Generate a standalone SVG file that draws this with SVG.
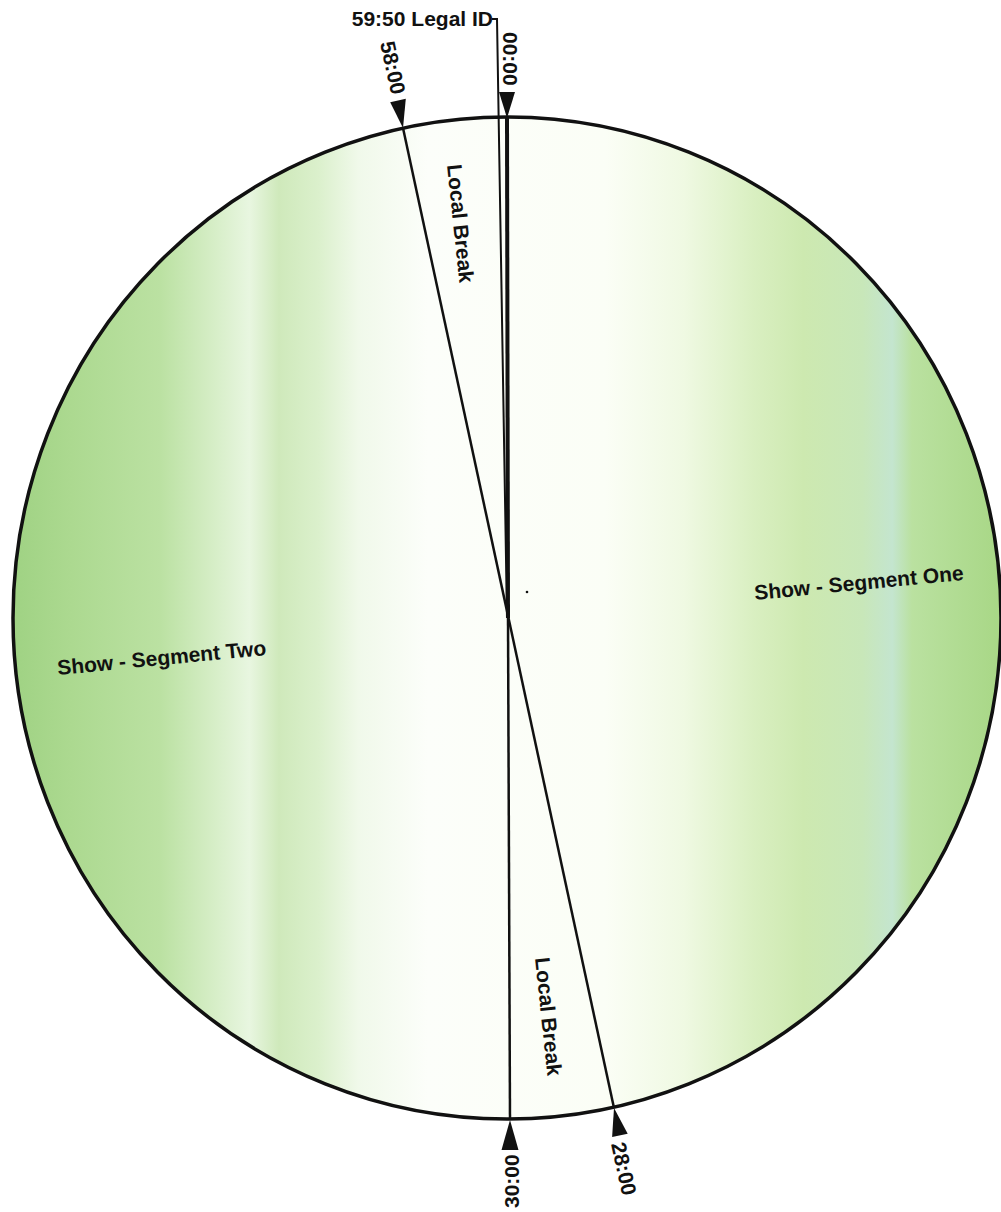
<svg xmlns="http://www.w3.org/2000/svg" width="1001" height="1212" viewBox="0 0 1001 1212">
  <style>
    .lbl { font-family: "Liberation Sans", Arial, sans-serif; font-weight: bold; font-size: 21px; fill: #111; }
    .ln { stroke: #111; fill: none; stroke-linecap: butt; }
    .arr { fill: #111; stroke: none; }
  </style>
  <defs>
    <linearGradient id="bg" gradientUnits="userSpaceOnUse" x1="12" y1="0" x2="1001" y2="0">
      <stop offset="0" stop-color="#9fd283"/>
      <stop offset="0.06" stop-color="#acd990"/>
      <stop offset="0.15" stop-color="#bbe1a2"/>
      <stop offset="0.2" stop-color="#d4edc4"/>
      <stop offset="0.24" stop-color="#e8f6e0"/>
      <stop offset="0.27" stop-color="#cfe9bb"/>
      <stop offset="0.31" stop-color="#dbf0cc"/>
      <stop offset="0.35" stop-color="#f0f9ea"/>
      <stop offset="0.42" stop-color="#fcfefa"/>
      <stop offset="0.6" stop-color="#fbfef6"/>
      <stop offset="0.68" stop-color="#eff9e2"/>
      <stop offset="0.75" stop-color="#d9efc1"/>
      <stop offset="0.8" stop-color="#cde9b0"/>
      <stop offset="0.86" stop-color="#c8e7b9"/>
      <stop offset="0.89" stop-color="#c4e5cf"/>
      <stop offset="0.91" stop-color="#bae1a0"/>
      <stop offset="1" stop-color="#a8d786"/>
    </linearGradient>
  </defs>

  <g id="dial">
    <ellipse cx="507" cy="618" rx="494" ry="501" fill="url(#bg)" stroke="#111" stroke-width="3.5"/>
  </g>

  <g id="connectors">
    <polyline class="ln" points="492,19 497,19 507,618" stroke-width="2"/>
    <line class="ln" x1="507" y1="117" x2="508" y2="618" stroke-width="4"/>
    <line class="ln" x1="508" y1="618" x2="510" y2="1120" stroke-width="2.5"/>
    <line class="ln" x1="403" y1="128" x2="614" y2="1108" stroke-width="2.5"/>
    <polygon class="arr" points="499,92 515,92 507,118"/>
    <polygon class="arr" points="390.2,102.2 405.8,98.8 403,128"/>
    <polygon class="arr" points="501.5,1150 518.5,1150 510,1120"/>
    <polygon class="arr" points="612.1,1137.1 627.7,1133.7 614,1108"/>
    <circle cx="527" cy="592" r="1.3" fill="#111"/>
  </g>

  <g id="label-legal-id">
    <text class="lbl" x="493" y="26" text-anchor="end">59:50 Legal ID</text>
  </g>
  <g id="label-0000">
    <text class="lbl" transform="translate(503,32) rotate(90)">00:00</text>
  </g>
  <g id="label-5800">
    <text class="lbl" transform="translate(380,43) rotate(77.8)">58:00</text>
  </g>
  <g id="label-3000">
    <text class="lbl" transform="translate(519,1208) rotate(-90)">30:00</text>
  </g>
  <g id="label-2800">
    <text class="lbl" transform="translate(611,1144) rotate(77.8)">28:00</text>
  </g>
  <g id="local-break-top">
    <text class="lbl" transform="translate(447,165) rotate(84)">Local Break</text>
  </g>
  <g id="local-break-bottom">
    <text class="lbl" transform="translate(535,958) rotate(84)">Local Break</text>
  </g>
  <g id="segment-one">
    <text class="lbl" transform="translate(755,600) rotate(-5.5)">Show - Segment One</text>
  </g>
  <g id="segment-two">
    <text class="lbl" transform="translate(58,675) rotate(-5.5)">Show - Segment Two</text>
  </g>
</svg>
